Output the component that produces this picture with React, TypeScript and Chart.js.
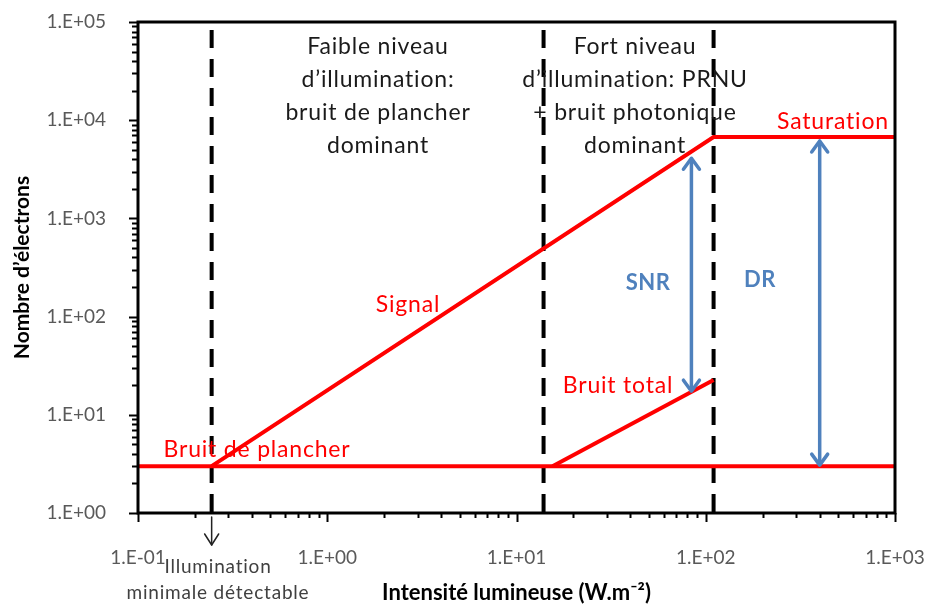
import React, { useEffect, useRef } from "react";
import { Chart, registerables } from "chart.js";

Chart.register(...registerables);

// ---- data ----
const xTickValues = [0.1, 1, 10, 100, 1000];
const xTickLabels = ["1.E-01", "1.E+00", "1.E+01", "1.E+02", "1.E+03"];
const yTickValues = [1, 10, 100, 1000, 10000, 100000];
const yTickLabels = ["1.E+00", "1.E+01", "1.E+02", "1.E+03", "1.E+04", "1.E+05"];

const floorX = [0.1, 1000];
const floorY = [3, 3];
const signalX = [0.245, 110, 1000];
const signalY = [3, 6750, 6750];
const totalNoiseX = [15.5, 110];
const totalNoiseY = [3, 22.6];
const regionLimitsX = [0.245, 13.9, 110];

const arrowNames = ["SNR", "DR"];
const arrowX = [84, 400];
const arrowTop = [4500, 6750];
const arrowBottom = [17, 3];

const FONT = "Lato, 'Open Sans', sans-serif";
const RED = "#FF0000";
const BLUE = "#4F81BD";

function pts(xs: number[], ys: number[]) {
  return xs.map((x, i) => ({ x, y: ys[i] }));
}

function drawArrowHead(ctx: CanvasRenderingContext2D, x: number, y: number, dir: number, half: number, len: number) {
  ctx.beginPath();
  ctx.moveTo(x - half, y - dir * len);
  ctx.lineTo(x, y);
  ctx.lineTo(x + half, y - dir * len);
  ctx.stroke();
}

const overlayPlugin = {
  id: "overlay",
  afterDraw(chart: any) {
    const { ctx, chartArea: a, scales } = chart;
    const xs = scales.x;
    const ys = scales.y;
    ctx.save();

    // frame
    ctx.strokeStyle = "#000";
    ctx.lineWidth = 3;
    ctx.strokeRect(a.left, a.top, a.right - a.left, a.bottom - a.top);

    // ticks (major + minor)
    ctx.lineWidth = 2;
    ctx.beginPath();
    for (let d = 1; d <= 10000; d *= 10) {
      for (let m = 1; m <= 10; m++) {
        const v = d * m;
        const py = Math.round(ys.getPixelForValue(v)) + 0.5;
        const len = m === 1 || m === 10 ? 9 : 6;
        ctx.moveTo(a.left - len, py);
        ctx.lineTo(a.left, py);
      }
    }
    for (let d = 0.1; d <= 100.0001; d *= 10) {
      for (let m = 1; m <= 10; m++) {
        const v = d * m;
        const px = Math.round(xs.getPixelForValue(v)) + 0.5;
        const len = m === 1 || m === 10 ? 9 : 5;
        ctx.moveTo(px, a.bottom);
        ctx.lineTo(px, a.bottom + len);
      }
    }
    ctx.stroke();

    // blue double arrows
    ctx.strokeStyle = BLUE;
    ctx.lineWidth = 3.5;
    ctx.lineCap = "round";
    ctx.lineJoin = "round";
    arrowX.forEach((xv, i) => {
      const px = xs.getPixelForValue(xv);
      const pt = ys.getPixelForValue(arrowTop[i]) + 4;
      const pb = ys.getPixelForValue(arrowBottom[i]) - 1;
      ctx.beginPath();
      ctx.moveTo(px, pt + 1);
      ctx.lineTo(px, pb - 1);
      ctx.stroke();
      drawArrowHead(ctx, px, pt, -1, 8, 11);
      drawArrowHead(ctx, px, pb, 1, 8, 11);
    });

    // "Illumination minimale détectable" arrow
    const ix = xs.getPixelForValue(regionLimitsX[0]);
    ctx.strokeStyle = "#222";
    ctx.lineWidth = 1.5;
    ctx.beginPath();
    ctx.moveTo(ix, a.bottom + 4);
    ctx.lineTo(ix, a.bottom + 32);
    ctx.stroke();
    drawArrowHead(ctx, ix, a.bottom + 32, 1, 7, 11);

    // texts
    ctx.textAlign = "center";
    ctx.textBaseline = "middle";
    ctx.fillStyle = "#1a1a1a";
    ctx.font = `23px ${FONT}`;
    (ctx as any).letterSpacing = "0.8px";
    const left = ["Faible niveau", "d\u2019illumination:", "bruit de plancher", "dominant"];
    const right = ["Fort niveau", "d\u2019illumination: PRNU", "+ bruit photonique", "dominant"];
    const lineYs = [47, 80, 113, 146];
    left.forEach((t, i) => ctx.fillText(t, 378, lineYs[i]));
    right.forEach((t, i) => ctx.fillText(t, 635, lineYs[i]));

    ctx.fillStyle = RED;
    ctx.fillText("Saturation", 833, 122);
    ctx.fillText("Signal", 408, 305);
    ctx.fillText("Bruit total", 618, 386);
    ctx.fillText("Bruit de plancher", 257, 450);

    ctx.fillStyle = BLUE;
    ctx.font = `bold 22px ${FONT}`;
    (ctx as any).letterSpacing = "0.5px";
    ctx.fillText(arrowNames[0], 648, 283);
    ctx.fillText(arrowNames[1], 760, 280);

    ctx.fillStyle = "#404040";
    ctx.font = `19px ${FONT}`;
    (ctx as any).letterSpacing = "0.8px";
    ctx.fillText("Illumination", 218, 567);
    ctx.fillText("minimale d\u00e9tectable", 218, 593);
    (ctx as any).letterSpacing = "0px";

    ctx.restore();
  },
};

export default function App() {
  const ref = useRef<HTMLCanvasElement | null>(null);

  useEffect(() => {
    if (!ref.current) return;
    const lineDs = (data: any[], extra: any = {}) => ({
      data,
      showLine: true,
      borderColor: RED,
      borderWidth: 4,
      pointRadius: 0,
      fill: false,
      tension: 0,
      ...extra,
    });
    const dashed = regionLimitsX.map((xv) =>
      lineDs(
        [
          { x: xv, y: 100000 },
          { x: xv, y: 1 },
        ],
        { borderColor: "#000", borderWidth: 4, borderDash: [18, 11], borderDashOffset: 21, borderCapStyle: "butt" }
      )
    );
    const chart = new Chart(ref.current, {
      type: "scatter",
      data: {
        datasets: [
          lineDs(pts(floorX, floorY)),
          lineDs(pts(signalX, signalY)),
          lineDs(pts(totalNoiseX, totalNoiseY)),
          ...dashed,
        ] as any,
      },
      options: {
        responsive: false,
        animation: false,
        layout: { padding: { top: 22, right: 33, left: 0, bottom: 0 } },
        plugins: { legend: { display: false }, tooltip: { enabled: false } },
        scales: {
          x: {
            type: "logarithmic",
            min: 0.1,
            max: 1000,
            afterBuildTicks: (s: any) => {
              s.ticks = xTickValues.map((v) => ({ value: v }));
            },
            afterFit: (s: any) => {
              s.height = 95;
              s.paddingLeft = 0;
              s.paddingRight = 0;
            },
            ticks: {
              callback: (_v: any, i: number) => xTickLabels[i],
              color: "#595959",
              font: { family: FONT, size: 19 },
              padding: 25,
              maxRotation: 0,
              autoSkip: false,
            },
            grid: { display: false },
            border: { display: false },
            title: {
              display: true,
              text: "Intensit\u00e9 lumineuse (W.m\u207B\u00B2)",
              color: "#000",
              font: { family: FONT, size: 22, weight: "bold" },
              padding: { top: 0, bottom: 2 },
            },
          },
          y: {
            type: "logarithmic",
            min: 1,
            max: 100000,
            afterBuildTicks: (s: any) => {
              s.ticks = yTickValues.map((v) => ({ value: v }));
            },
            afterFit: (s: any) => {
              s.width = 138;
              s.paddingTop = 0;
              s.paddingBottom = 0;
            },
            ticks: {
              callback: (_v: any, i: number) => yTickLabels[i],
              color: "#595959",
              font: { family: FONT, size: 19 },
              padding: 24,
              autoSkip: false,
            },
            grid: { display: false },
            border: { display: false },
            title: {
              display: true,
              text: "Nombre d\u2019\u00e9lectrons",
              color: "#000",
              font: { family: FONT, size: 21, weight: "bold" },
              padding: { top: 10, bottom: 0 },
            },
          },
        },
      } as any,
      plugins: [overlayPlugin],
    });
    return () => chart.destroy();
  }, []);

  return (
    <div style={{ position: "fixed", left: 0, top: 0, width: 928, height: 608, background: "#fff" }}>
      <canvas ref={ref} width={928} height={608} style={{ width: 928, height: 608 }} />
    </div>
  );
}
